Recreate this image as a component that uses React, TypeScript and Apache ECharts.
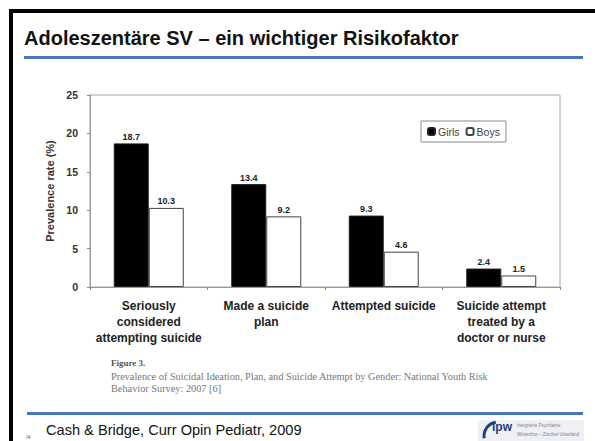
import React, { useEffect, useRef } from "react";
import * as echarts from "echarts";

const categories = [
  "Seriously\nconsidered\nattempting suicide",
  "Made a suicide\nplan",
  "Attempted suicide",
  "Suicide attempt\ntreated by a\ndoctor or nurse",
];
const girls = [18.7, 13.4, 9.3, 2.4];
const boys = [10.3, 9.2, 4.6, 1.5];
const yTicks = { min: 0, max: 25, interval: 5 };
const seriesNames = ["Girls", "Boys"];

const title = "Adoleszentäre SV – ein wichtiger Risikofaktor";
const yAxisName = "Prevalence rate (%)";
const figureLabel = "Figure 3.";
const captionLines = [
  "Prevalence of Suicidal Ideation, Plan, and Suicide Attempt by Gender: National Youth Risk",
  "Behavior Survey: 2007 [6]",
];
const footer = "Cash & Bridge, Curr Opin Pediatr, 2009";
const pageNo = "/4";

const FONT = "'Liberation Sans', Arial, sans-serif";
const SERIF = "'Liberation Serif', 'Times New Roman', serif";
const BLUE = "#4a75bd";

export default function App() {
  const ref = useRef<HTMLDivElement>(null);
  useEffect(() => {
    if (!ref.current) return;
    const chart = echarts.init(ref.current, null, { renderer: "svg" });
    const labelStyle = {
      show: true,
      position: "top" as const,
      distance: 2,
      fontFamily: FONT,
      fontSize: 9,
      fontWeight: "bold" as const,
      color: "#222",
    };
    chart.setOption({
      animation: false,
      backgroundColor: "#ffffff",
      textStyle: { fontFamily: FONT },
      grid: {
        left: 90,
        right: 35,
        top: 95,
        bottom: 154,
        show: true,
        borderColor: "#a8a8a8",
        borderWidth: 1,
        backgroundColor: "transparent",
      },
      legend: {
        data: seriesNames,
        left: 421,
        top: 121,
        orient: "horizontal",
        itemWidth: 7,
        itemHeight: 7,
        itemGap: 6,
        padding: [5, 6, 5, 6],
        borderColor: "#8a8a8a",
        borderWidth: 1,
        textStyle: { fontFamily: FONT, fontSize: 10.5, color: "#444", padding: [0, 0, 0, -2] },
      },
      xAxis: {
        type: "category",
        data: categories,
        axisLine: { lineStyle: { color: "#999", width: 1 } },
        axisTick: { show: true, length: 3, lineStyle: { color: "#888" } },
        axisLabel: {
          interval: 0,
          margin: 11,
          fontFamily: FONT,
          fontSize: 12,
          fontWeight: "bold",
          color: "#222",
          lineHeight: 16,
        },
      },
      yAxis: {
        type: "value",
        min: yTicks.min,
        max: yTicks.max,
        interval: yTicks.interval,
        name: yAxisName,
        nameLocation: "middle",
        nameGap: 32,
        nameTextStyle: { fontFamily: FONT, fontSize: 11, fontWeight: "bold", color: "#333" },
        axisLine: { show: true, lineStyle: { color: "#999", width: 1 } },
        axisTick: { show: true, length: 3, lineStyle: { color: "#888" } },
        splitLine: { show: false },
        axisLabel: {
          margin: 12,
          fontFamily: FONT,
          fontSize: 10.5,
          fontWeight: "bold",
          color: "#333",
        },
      },
      series: [
        {
          name: seriesNames[0],
          type: "bar",
          data: girls,
          barWidth: 35,
          barGap: "0%",
          itemStyle: { color: "#000", borderColor: "#222", borderWidth: 1 },
          label: labelStyle,
        },
        {
          name: seriesNames[1],
          type: "bar",
          data: boys,
          barWidth: 35,
          barGap: "0%",
          itemStyle: { color: "#fff", borderColor: "#444", borderWidth: 1 },
          label: labelStyle,
        },
      ],
      graphic: [
        // slide frame
        { type: "rect", shape: { x: 9, y: 9, width: 586, height: 4 }, style: { fill: "#000" } },
        { type: "rect", shape: { x: 9, y: 9, width: 4, height: 432 }, style: { fill: "#000" } },
        // title
        {
          type: "text",
          x: 24,
          y: 38,
          style: {
            text: title,
            font: `bold 20px ${FONT}`,
            fill: "#111",
            verticalAlign: "middle",
          },
        },
        { type: "rect", shape: { x: 24, y: 56, width: 559, height: 3 }, style: { fill: BLUE } },
        // caption
        {
          type: "text",
          x: 111,
          y: 363,
          style: { text: figureLabel, font: `bold 9px ${SERIF}`, fill: "#555", verticalAlign: "middle" },
        },
        {
          type: "text",
          x: 111,
          y: 376,
          style: { text: captionLines[0], font: `10.3px ${SERIF}`, fill: "#777", verticalAlign: "middle" },
        },
        {
          type: "text",
          x: 111,
          y: 388,
          style: { text: captionLines[1], font: `10.3px ${SERIF}`, fill: "#777", verticalAlign: "middle" },
        },
        // footer
        { type: "rect", shape: { x: 27, y: 412, width: 556, height: 3 }, style: { fill: BLUE } },
        {
          type: "text",
          x: 46,
          y: 430,
          style: { text: footer, font: `14.6px ${FONT}`, fill: "#111", verticalAlign: "middle" },
        },
        {
          type: "text",
          x: 26,
          y: 437,
          style: { text: pageNo, font: `5px ${FONT}`, fill: "#555", verticalAlign: "middle" },
        },
        // logo
        {
          type: "rect",
          shape: { x: 478, y: 420, width: 106, height: 21 },
          style: { fill: "#eef0f3" },
        },
        {
          type: "arc",
          shape: { cx: 498, cy: 436, r: 14, startAngle: Math.PI * 0.95, endAngle: Math.PI * 1.45 },
          style: { stroke: "#1f3f78", lineWidth: 3, fill: "none" },
        },
        {
          type: "text",
          x: 492,
          y: 427,
          style: { text: "ipw", font: `bold 12px ${FONT}`, fill: "#1f3f78", verticalAlign: "middle" },
        },
        {
          type: "text",
          x: 517,
          y: 425,
          style: { text: "Integrierte Psychiatrie", font: `4.5px ${FONT}`, fill: "#7a8294", verticalAlign: "middle" },
        },
        {
          type: "text",
          x: 517,
          y: 434,
          style: { text: "Winterthur – Zürcher Unterland", font: `4.5px ${FONT}`, fill: "#7a8294", verticalAlign: "middle" },
        },
      ],
    });
    return () => chart.dispose();
  }, []);
  return (
    <div
      ref={ref}
      style={{ position: "absolute", left: 0, top: 0, width: 595, height: 441 }}
    />
  );
}
